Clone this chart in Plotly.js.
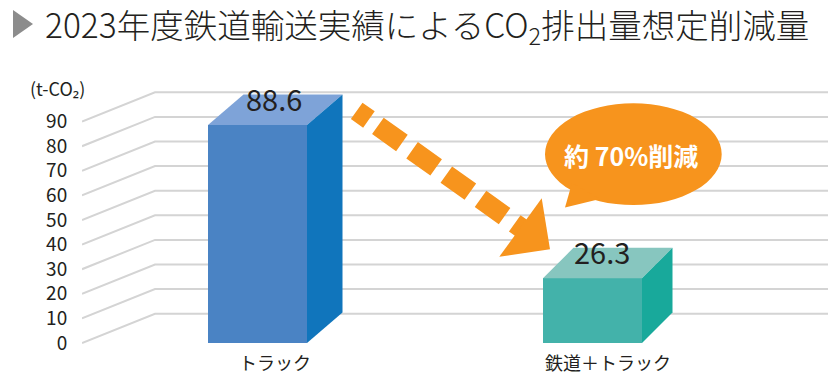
<!DOCTYPE html>
<html><head><meta charset="utf-8">
<script src="https://cdn.plot.ly/plotly-3.0.1.min.js"></script>
<style>html,body{margin:0;padding:0;background:#fff}#chart{width:836px;height:384px}</style>
</head><body><div id="chart"></div>
<script>
// ---- data ----
const categories = ['トラック', '鉄道＋トラック'];
const values = [88.6, 26.3];
const valueLabels = ['88.6', '26.3'];
const tickValues = [0, 10, 20, 30, 40, 50, 60, 70, 80, 90];
const tickLabels = ['0', '10', '20', '30', '40', '50', '60', '70', '80', '90'];
const unitLabel = '(t-CO₂)';
const titleText = '2023年度鉄道輸送実績によるCO<sub>2</sub>排出量想定削減量';
const calloutText = '約 70%削減';

// ---- styles / geometry (pixels) ----
const W = 836, H = 384, L = 82;
const X0PX = 257.5, XUNIT = 335;   // pixel of first category centre, px per category
const Y0PX = 343, YUNIT = 2.46;    // pixel of value 0, px per unit
const px2x = p => (p - X0PX) / XUNIT;
const py2y = p => (Y0PX - p) / YUNIT;
const dxU = p => p / XUNIT;
const dyU = p => p / YUNIT;
const px2paperX = p => (p - L) / (W - L);
const py2paperY = p => (H - p) / H;

const barWidthPx = 99;
const depthPx = [35.5, 30.5];
const depthYPx = 30.5;
const labelDxPx = [16.5, 9.5];
const frontColors = ['#4A83C4', '#43B2AA'];
const topColors = ['#7EA3D8', '#87C6BF'];
const sideColors = ['#1075BC', '#18A99B'];
const gridColor = '#D4D4D4';
const orange = '#F7941D';
const FONT = '"Noto Sans CJK JP", "Noto Sans", sans-serif';

const bw = dxU(barWidthPx);
const traces = [];

// front faces
traces.push({
  type: 'bar', x: categories.map((c, i) => i), y: values, width: bw,
  marker: { color: frontColors, line: { width: 0 } }, hoverinfo: 'skip', showlegend: false
});
// top and side faces
values.forEach((v, i) => {
  const xl = i - bw / 2, xr = i + bw / 2, dx = dxU(depthPx[i]), dy = dyU(depthYPx);
  traces.push({
    type: 'scatter', mode: 'lines', fill: 'toself', fillcolor: topColors[i],
    x: [xl, xr, xr + dx, xl + dx, xl], y: [v, v, v + dy, v + dy, v],
    line: { width: 0, color: topColors[i] }, hoverinfo: 'skip', showlegend: false
  });
  traces.push({
    type: 'scatter', mode: 'lines', fill: 'toself', fillcolor: sideColors[i],
    x: [xr, xr, xr + dx, xr + dx, xr], y: [0, v, v + dy, dy, 0],
    line: { width: 0, color: sideColors[i] }, hoverinfo: 'skip', showlegend: false
  });
});

// dashed arrow
const aStart = [356.7, 110.8], aEnd = [527, 232];
traces.push({
  type: 'scatter', mode: 'lines',
  x: [px2x(aStart[0]), px2x(aEnd[0])], y: [py2y(aStart[1]), py2y(aEnd[1])],
  line: { color: orange, width: 20, dash: '15px,11px,29.5px,12.5px,29.5px,12.5px,29.5px,12.5px,29.5px,12.5px,29.5px,12.5px' },
  hoverinfo: 'skip', showlegend: false
});

const shapes = [];
// perspective gridlines
const gx0 = px2x(L), gx1 = px2x(L + 73), gx2 = px2x(828), gdy = dyU(29.3);
tickValues.forEach(v => {
  shapes.push({
    type: 'path', xref: 'x', yref: 'y', layer: 'below',
    path: `M${gx0},${v} L${gx1},${v + gdy} L${gx2},${v + gdy}`,
    line: { color: gridColor, width: 2 }
  });
});
// arrow head
const head = [[550, 249.3], [541.7, 198.3], [499.3, 256.7]];
shapes.push({
  type: 'path', xref: 'x', yref: 'y', layer: 'above',
  path: 'M' + head.map(p => `${px2x(p[0])},${py2y(p[1])}`).join(' L') + ' Z',
  fillcolor: orange, line: { width: 0 }
});
// speech bubble
shapes.push({
  type: 'circle', xref: 'x', yref: 'y', layer: 'above',
  x0: px2x(545), x1: px2x(721.7), y0: py2y(205), y1: py2y(103.3),
  fillcolor: orange, line: { width: 0 }
});
const tail = [[572, 183], [565, 207.5], [600, 199]];
shapes.push({
  type: 'path', xref: 'x', yref: 'y', layer: 'above',
  path: 'M' + tail.map(p => `${px2x(p[0])},${py2y(p[1])}`).join(' L') + ' Z',
  fillcolor: orange, line: { width: 0 }
});
// title marker triangle
const tri = [[13, 10], [33, 24], [13, 38]];
shapes.push({
  type: 'path', xref: 'paper', yref: 'paper',
  path: 'M' + tri.map(p => `${px2paperX(p[0])},${py2paperY(p[1])}`).join(' L') + ' Z',
  fillcolor: '#8C8C8C', line: { width: 0 }
});

const annotations = [];
values.forEach((v, i) => {
  annotations.push({
    x: i + dxU(labelDxPx[i]), y: v, xref: 'x', yref: 'y', yshift: 27.5,
    text: valueLabels[i], showarrow: false, xanchor: 'center', yanchor: 'middle',
    font: { family: FONT, size: 29, color: '#231F20' }
  });
  annotations.push({
    x: i + dxU(depthPx[i] / 2), y: py2y(362), xref: 'x', yref: 'y',
    text: categories[i], showarrow: false, xanchor: 'center', yanchor: 'middle',
    font: { family: FONT, size: 18, color: '#231F20' }
  });
});
annotations.push({
  x: px2paperX(57), y: py2paperY(88), xref: 'paper', yref: 'paper',
  text: unitLabel, showarrow: false, xanchor: 'center', yanchor: 'middle',
  font: { family: FONT, size: 18, color: '#231F20' }
});
annotations.push({
  x: px2x(631), y: py2y(155), xref: 'x', yref: 'y',
  text: calloutText, showarrow: false, xanchor: 'center', yanchor: 'middle',
  font: { family: FONT, size: 25, color: '#FFFFFF', weight: 700 }
});

const layout = {
  width: W, height: H, margin: { l: L, r: 0, t: 0, b: 0 },
  paper_bgcolor: '#FFFFFF', plot_bgcolor: 'rgba(0,0,0,0)',
  showlegend: false,
  title: {
    text: titleText, xref: 'container', yref: 'container',
    x: 45 / W, xanchor: 'left', y: 1 - 26 / H, yanchor: 'middle',
    font: { family: FONT, size: 33.5, color: '#231F20', weight: 300 }
  },
  xaxis: { range: [px2x(L), px2x(W)], visible: false, fixedrange: true },
  yaxis: {
    range: [py2y(H), py2y(0)], tickvals: tickValues, ticktext: tickLabels,
    ticks: 'outside', ticklen: 10, tickcolor: 'rgba(0,0,0,0)',
    showgrid: false, zeroline: false, showline: false, fixedrange: true,
    tickfont: { family: FONT, size: 19, color: '#231F20' }
  },
  shapes: shapes, annotations: annotations, bargap: 0
};
Plotly.newPlot('chart', traces, layout, { displayModeBar: false, staticPlot: true });
</script>
</body></html>
